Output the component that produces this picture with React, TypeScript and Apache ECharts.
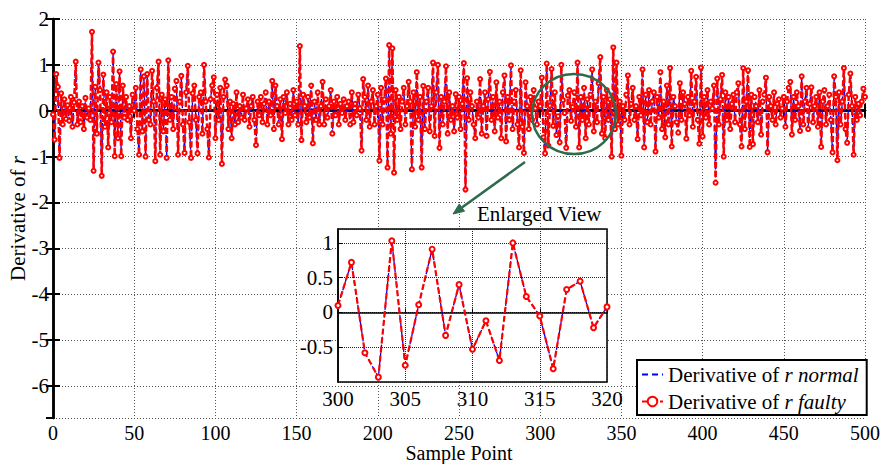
import React, { useEffect, useRef } from 'react';
import * as echarts from 'echarts';

// Derivative of r (faulty) for sample points 0..500
const faultyValues: number[] = [
  -0.08, -0.63, 0.80, 0.52, -1.03, 0.38, -0.30, 0.25, -0.18, 0.12,
  -0.22, 0.30, -0.35, 0.18, 1.07, -0.30, 0.20, -0.25, 0.10, -0.40,
  0.28, -0.15, 0.05, -0.20, 1.72, -1.31, 0.52, -0.50, 1.05, 0.45,
  -1.42, 0.79, -0.35, 0.40, -0.80, 0.30, -0.25, 1.29, -0.99, 0.58,
  -0.60, 0.86, -0.99, 0.55, -0.15, 0.30, -0.20, 0.10, -0.60, 0.35,
  0.00, 0.50, -0.40, -0.96, 0.90, -0.45, 0.75, -1.00, 0.80, -0.20,
  -0.30, 0.87, 0.20, -1.10, 0.50, 1.07, -0.96, 0.35, -0.45, 0.25,
  -1.03, 1.10, -0.20, 0.30, -0.40, 0.48, 0.65, -0.96, 0.20, 0.76,
  -0.30, -0.92, 0.40, 0.98, -0.25, -1.03, 0.38, 0.55, -0.20, -0.93,
  0.30, 0.40, -0.50, 1.00, 0.20, -0.40, -1.02, 0.25, 0.55, 0.73,
  -0.60, 0.35, -0.20, 0.50, -1.16, 0.30, 0.68, 0.55, -0.40, 0.20,
  -0.60, 0.15, -0.30, 0.40, -0.25, 0.10, -0.15, 0.35, -0.20, 0.05,
  0.25, -0.35, 0.10, 0.30, -0.20, -0.75, 0.20, -0.10, 0.30, -0.25,
  0.15, 0.40, -0.30, 0.20, -0.10, 0.65, -0.40, 0.55, 0.10, -0.30,
  0.25, -0.62, 0.30, -0.05, 0.40, -0.30, 0.15, -0.20, 0.45, -0.10,
  0.20, -0.30, 1.41, -0.64, 0.35, 0.10, -0.25, 0.30, -0.15, 0.55,
  -0.71, 0.20, -0.20, 0.40, -0.30, 0.10, 0.63, -0.30, 0.25, -0.15,
  0.10, 0.45, -0.50, 0.20, -0.10, 0.30, -0.30, 0.15, -0.05, 0.25,
  -0.20, 0.10, 0.20, -0.30, 0.40, -0.25, 0.15, -0.10, 0.35, 0.05,
  -0.87, 0.69, 0.30, -0.20, 0.55, -0.35, 0.20, 0.45, -0.30, 0.10,
  0.35, -1.09, 0.50, -0.30, 0.25, 0.70, -1.24, 1.43, -0.50, 1.36,
  -1.35, 0.45, -0.20, 0.30, -0.40, 0.20, 0.50, -0.30, 0.10, 0.63,
  0.20, -1.28, 0.40, -0.35, 0.84, -0.20, 0.30, -1.24, 0.54, -0.40,
  0.20, 0.50, -0.45, 0.10, 1.05, -0.55, 0.40, 1.00, -0.81, 0.30,
  -0.30, 0.20, 0.97, -0.50, 0.40, -0.20, 0.10, -0.45, 0.36, -0.15,
  0.30, -0.40, 0.15, 1.04, -1.72, 0.71, -0.20, 0.40, 0.10, -0.30,
  -0.60, 0.20, -0.15, 0.69, -0.50, 0.10, 0.40, -0.55, 0.25, 0.85,
  -0.20, 0.30, -0.45, 0.62, -0.15, 0.20, -0.60, 0.40, 0.77, -0.67,
  0.30, -0.20, 0.99, -0.40, 0.20, 0.45, -0.30, -0.80, 0.88, -0.35,
  -0.92, 0.62, 0.10, -0.40, 0.30, -0.20, 0.45, 0.05, -0.30, 0.20,
  0.10, 0.72, -0.58, -0.93, 1.03, -0.76, 0.11, 0.91, -0.33, 0.40,
  -0.53, -0.12, -0.69, 1.00, 0.23, -0.05, -0.81, 0.33, 0.45, -0.22,
  0.08, 0.40, -0.35, 1.05, -0.80, 0.30, -0.20, 0.50, -0.60, 0.25,
  -0.30, 0.35, 0.90, -0.45, 0.20, -0.25, 0.60, 1.17, -0.50, 0.30,
  -0.60, 0.45, -0.20, 0.25, -1.00, 1.38, -0.40, 1.05, -0.30, 0.20,
  -0.98, 0.10, -0.20, 0.35, 0.77, -0.30, 0.15, 0.50, -0.20, 0.10,
  -0.62, 0.30, -0.10, 0.90, -0.80, 0.35, -0.25, 0.45, -0.30, 0.20,
  0.40, -0.89, 0.30, -0.15, 0.84, -0.40, 0.20, -0.58, 0.55, -0.30,
  0.93, -0.78, 0.30, 0.10, -0.25, -0.48, 0.60, -0.20, 0.40, 0.15,
  -0.61, 0.30, -0.10, 0.87, -0.35, 0.20, 0.74, -0.20, -0.72, 0.94,
  -0.56, 0.30, -0.15, 0.45, -0.30, 0.20, 0.05, 0.55, -1.57, 0.70,
  -0.30, 0.25, 0.78, -1.00, 0.40, -0.20, 0.30, -0.40, 0.15, 0.35,
  -0.25, 0.40, 0.60, -0.30, -0.78, 0.93, -0.40, 0.20, 0.88, -0.79,
  0.35, -0.73, 0.30, 0.10, -0.25, 0.45, -0.52, 0.20, 0.35, 0.72,
  -0.91, 0.30, 0.10, -0.20, 0.40, -0.30, 0.15, 0.25, -0.15, 0.05,
  0.30, -0.35, 0.20, 0.50, 0.63, -0.52, 0.30, -0.20, 0.40, 0.10,
  -0.44, 0.75, -0.30, 0.20, 0.50, -0.40, 0.15, 0.51, -0.25, 0.10,
  0.30, -0.35, 0.40, -0.79, 0.20, 0.45, -0.30, 0.10, 0.35, -0.20,
  -0.91, 0.75, 0.30, -1.08, 0.40, -0.30, 0.20, 0.93, -0.40, -0.70,
  0.35, 0.81, 0.10, -0.96, 0.30, -0.20, 0.15, -0.10, 0.20, 0.48,
  0.30,
];

// The normal derivative lies under the faulty one everywhere in the picture
const normalValues: number[] = [...faultyValues];

const insetRange = [300, 320];
const seriesNames = ['Derivative of r normal', 'Derivative of r faulty'];

const FONT = "'Liberation Serif', 'Times New Roman', serif";
const BLACK = '#000';
const GREEN = '#2e6b4d';
const BLUE = '#0000ff';
const RED = '#ff0000';

const toPairs = (vals: number[], from = 0, to = vals.length - 1) =>
  vals.map((v, i) => [i, v]).filter((p) => p[0] >= from && p[0] <= to);

export default function App() {
  const ref = useRef<HTMLDivElement>(null);

  useEffect(() => {
    if (!ref.current) return;
    const chart = echarts.init(ref.current, undefined, { renderer: 'svg' });

    const labelStyle = { color: BLACK, fontFamily: FONT, fontSize: 21 };
    const xLabelStyle = { color: BLACK, fontFamily: FONT, fontSize: 20, lineHeight: 20 };

    // Arrow geometry (annotation)
    const ax0 = 525, ay0 = 162, ax1 = 453, ay1 = 214;
    const dx = ax1 - ax0, dy = ay1 - ay0;
    const len = Math.hypot(dx, dy);
    const ux = dx / len, uy = dy / len;
    const hl = 11, hw = 4.5;
    const bx = ax1 - ux * hl, by = ay1 - uy * hl;

    const option: any = {
      animation: false,
      backgroundColor: '#fff',
      grid: [
        { left: 53, top: 19, width: 812, height: 399, show: false, containLabel: false, outerBoundsMode: 'none' },
        {
          left: 338, top: 229, width: 269, height: 153, containLabel: false, outerBoundsMode: 'none',
          show: true, backgroundColor: '#fff', borderColor: BLACK, borderWidth: 1.5, z: 5,
        },
      ],
      xAxis: [
        {
          type: 'value', gridIndex: 0, min: 0, max: 500, interval: 50, position: 'bottom',
          axisLine: { show: true, lineStyle: { color: BLACK, width: 2.5 } },
          axisTick: { show: true, inside: true, length: 7, lineStyle: { color: BLACK, width: 2 } },
          axisLabel: { ...xLabelStyle, margin: 5 },
          splitLine: { show: true, lineStyle: { color: '#555', width: 1, type: [1, 2] } },
          name: 'Sample Point', nameLocation: 'middle', nameGap: 25.5, nameMoveOverlap: false,
          nameTextStyle: { ...xLabelStyle, lineHeight: 19 },
        },
        {
          type: 'value', gridIndex: 0, min: 0, max: 500, interval: 50, position: 'top',
          axisLine: { show: true, lineStyle: { color: BLACK, width: 2.5 } },
          axisTick: { show: true, inside: true, length: 7, lineStyle: { color: BLACK, width: 2 } },
          axisLabel: { show: false },
          splitLine: { show: false },
        },
        {
          type: 'value', gridIndex: 1, min: insetRange[0], max: insetRange[1], interval: 5, z: 6,
          axisLine: { show: true, lineStyle: { color: BLACK, width: 1.5 } },
          axisTick: { show: true, inside: true, length: 4, lineStyle: { color: BLACK, width: 1 } },
          axisLabel: { ...labelStyle, margin: 6 },
          splitLine: { show: true, lineStyle: { color: '#222', width: 1, type: [1, 1] } },
        },
      ],
      yAxis: [
        {
          type: 'value', gridIndex: 0, min: -6.7, max: 2, splitNumber: 9, position: 'left',
          axisLine: { show: true, lineStyle: { color: BLACK, width: 2.5 } },
          axisTick: { show: true, inside: true, length: 7, lineStyle: { color: BLACK, width: 2 } },
          axisLabel: { ...labelStyle, margin: 4, showMinLabel: false },
          splitLine: { show: true, lineStyle: { color: '#555', width: 1, type: [1, 2] } },
          name: 'Derivative of {i|r}', nameLocation: 'middle', nameGap: 25, nameRotate: 90,
          nameMoveOverlap: false,
          nameTextStyle: { ...labelStyle, rich: { i: { ...labelStyle, fontStyle: 'italic' } } },
        },
        {
          type: 'value', gridIndex: 0, min: -6.7, max: 2, splitNumber: 9, position: 'right',
          axisLine: { show: true, lineStyle: { color: BLACK, width: 2.5 } },
          axisTick: { show: true, inside: true, length: 7, lineStyle: { color: BLACK, width: 2 } },
          axisLabel: { show: false },
          splitLine: { show: false },
        },
        {
          type: 'value', gridIndex: 1, min: -1, max: 1.2, interval: 0.5, z: 6,
          axisLine: { show: true, lineStyle: { color: BLACK, width: 1.5 } },
          axisTick: { show: true, inside: true, length: 4, lineStyle: { color: BLACK, width: 1 } },
          axisLabel: { ...labelStyle, margin: 5, showMinLabel: false, showMaxLabel: false },
          splitLine: { show: true, lineStyle: { color: '#222', width: 1, type: [1, 1] } },
        },
      ],
      legend: {
        data: [
          {
            name: seriesNames[0],
            itemStyle: { color: 'rgba(0,0,0,0)', borderColor: 'rgba(0,0,0,0)', borderWidth: 0 },
            lineStyle: { color: BLUE, width: 2, type: [6, 4] },
          },
          { name: seriesNames[1] },
        ],
        orient: 'vertical',
        left: 637, top: 360,
        backgroundColor: '#fff', borderColor: BLACK, borderWidth: 2,
        padding: [4, 8, 3, 4],
        itemGap: 6, itemWidth: 21, itemHeight: 12,
        textStyle: { ...labelStyle, rich: { i: { ...labelStyle, fontStyle: 'italic' } } },
        formatter: (name: string) =>
          name === seriesNames[0] ? 'Derivative of {i|r normal}' : 'Derivative of {i|r faulty}',
        z: 20,
      },
      series: [
        {
          name: seriesNames[0], type: 'line', xAxisIndex: 0, yAxisIndex: 0,
          data: toPairs(normalValues), symbol: 'none', z: 2,
          lineStyle: { color: BLUE, width: 1.3, type: [5, 3] },
          itemStyle: { color: BLUE },
        },
        {
          name: seriesNames[1], type: 'line', xAxisIndex: 0, yAxisIndex: 0,
          data: toPairs(faultyValues), symbol: 'emptyCircle', symbolSize: 4, showAllSymbol: true, z: 3,
          lineStyle: { color: RED, width: 2.5, type: [6, 3] },
          itemStyle: { color: RED, borderColor: RED, borderWidth: 2.4 },
        },
        {
          name: seriesNames[0], type: 'line', xAxisIndex: 2, yAxisIndex: 2,
          data: toPairs(normalValues, insetRange[0], insetRange[1]), symbol: 'none', z: 7,
          lineStyle: { color: BLUE, width: 1.3, type: [5, 3] },
          itemStyle: { color: BLUE },
        },
        {
          name: seriesNames[1], type: 'line', xAxisIndex: 2, yAxisIndex: 2,
          data: toPairs(faultyValues, insetRange[0], insetRange[1]), symbol: 'emptyCircle', symbolSize: 5, showAllSymbol: true, z: 8,
          lineStyle: { color: RED, width: 2.2, type: [6, 3] },
          itemStyle: { color: RED, borderColor: RED, borderWidth: 2.4 },
        },
      ],
      graphic: [
        {
          type: 'ellipse', z: 50,
          shape: { cx: 574, cy: 114, rx: 42, ry: 40 },
          style: { fill: 'none', stroke: GREEN, lineWidth: 2.5 },
        },
        {
          type: 'line', z: 50,
          shape: { x1: ax0, y1: ay0, x2: bx, y2: by },
          style: { stroke: GREEN, lineWidth: 2.5 },
        },
        {
          type: 'polygon', z: 50,
          shape: {
            points: [
              [ax1, ay1],
              [bx - uy * hw, by + ux * hw],
              [bx + uy * hw, by - ux * hw],
            ],
          },
          style: { fill: GREEN, stroke: GREEN, lineWidth: 1 },
        },
        {
          type: 'text', z: 50, x: 477, y: 214,
          style: {
            text: 'Enlarged View', fill: BLACK, font: `21px ${FONT}`,
            textAlign: 'left', textVerticalAlign: 'middle', verticalAlign: 'middle',
          },
        },
      ],
    };

    chart.setOption(option);
    return () => chart.dispose();
  }, []);

  return (
    <div
      ref={ref}
      style={{ position: 'absolute', left: 0, top: 0, width: 882, height: 464 }}
    />
  );
}
